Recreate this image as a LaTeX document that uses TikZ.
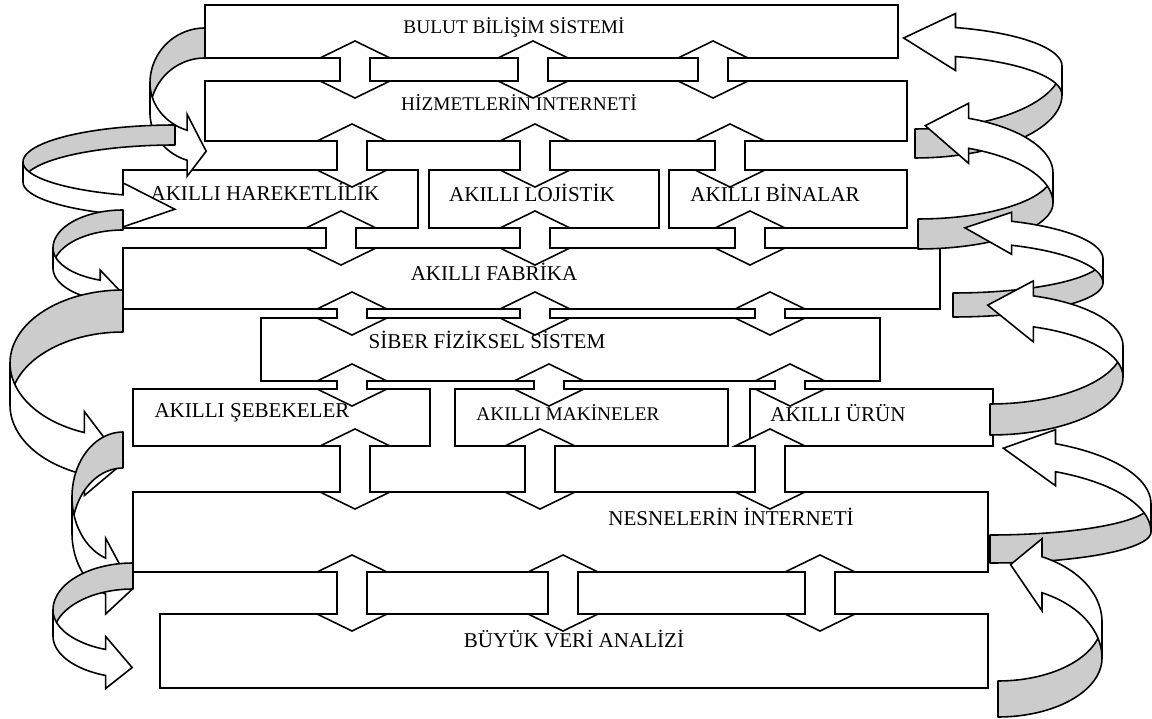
\documentclass[tikz,border=0pt]{standalone}
\usepackage{fontspec}
\setmainfont{Liberation Serif}
\usepackage{xcolor}
\definecolor{ribbongray}{RGB}{204,204,204}
\usetikzlibrary{fit,positioning}
\tikzset{
  layer/.style={draw, line width=0.9pt, inner sep=0pt, fill=white},
  lbl/.style={font=\fontsize{12}{14}\selectfont, inner sep=0pt},
  small/.style={font=\fontsize{11}{13}\selectfont},
  dblarrow/.style={draw, fill=white, line width=0.9pt, line join=miter},
  back/.style={draw, fill=ribbongray, line width=0.9pt, line join=round},
  front/.style={draw, fill=white, line width=0.9pt, line join=miter},
  % vertical two-headed arrow, #1 = length of the shaft
  pics/updown/.style={code={
    \draw[dblarrow] (0,-17) -- (35,0) -- (15,0) -- (15,#1) -- (35,#1) -- (0,#1+17)
      -- (-35,#1) -- (-15,#1) -- (-15,0) -- (-35,0) -- cycle;
  }},
  % 3D ribbon arrow: rx, ry back, ry front, thickness, head angle, barb, head length
  pics/twist/.style n args={7}{code={
    \pgfmathsetmacro\hx{#1*cos(#5)}
    \pgfmathsetmacro\hy{#3*sin(#5)}
    \pgfmathsetmacro\ang{atan2(-#3*cos(#5),#1*sin(#5))}
    \pgfmathsetmacro\tipx{\hx+#7*cos(\ang)}
    \pgfmathsetmacro\tipy{\hy+#4/2+#7*sin(\ang)}
    \filldraw[back] plot[domain=270:180,samples=30] ({#1*cos(\x)},{#2*sin(\x)})
      -- plot[domain=180:270,samples=30] ({#1*cos(\x)},{#2*sin(\x)+#4}) -- cycle;
    \filldraw[front] plot[domain=180:#5,samples=30] ({#1*cos(\x)},{#3*sin(\x)})
      -- (\hx,\hy-#6) -- (\tipx,\tipy) -- (\hx,\hy+#4+#6)
      -- plot[domain=#5:180,samples=30] ({#1*cos(\x)},{#3*sin(\x)+#4}) -- cycle;
  }},
}

\begin{document}
\begin{tikzpicture}[x=0.02cm, y=-0.02cm]
\useasboundingbox (0,0) rectangle (1152,719);
% Layers
\node[layer, fit={(205,5) (898,58)}] (bulut) {};
\node[layer, fit={(205,81) (907,141)}] (hizmet) {};
\node[layer, fit={(123,170) (418,228)}] (hareket) {};
\node[layer, fit={(429,170) (659,228)}] (lojistik) {};
\node[layer, fit={(669,170) (907,228)}] (binalar) {};
\node[layer, fit={(123,248) (940,309)}] (fabrika) {};
\node[layer, fit={(261,318) (880,381)}] (siber) {};
\node[layer, fit={(133,389) (430,446)}] (sebeke) {};
\node[layer, fit={(455,389) (728,446)}] (makine) {};
\node[layer, fit={(750,389) (993,446)}] (urun) {};
\node[layer, fit={(133,492) (988,572)}] (nesne) {};
\node[layer, fit={(160,614) (988,688)}] (veri) {};
% Layer texts
\node[lbl, small] (bulut-t) at (514,28) {BULUT BİLİŞİM SİSTEMİ};
\node[lbl, small] (hizmet-t) at (519,103) {HİZMETLERİN İNTERNETİ};
\node[lbl] (hareket-t) at (265,192) {AKILLI HAREKETLİLİK};
\node[lbl] (lojistik-t) at (532,193) {AKILLI LOJİSTİK};
\node[lbl] (binalar-t) at (775,193) {AKILLI BİNALAR};
\node[lbl] (fabrika-t) at (494,272) {AKILLI FABRİKA};
\node[lbl] (siber-t) at (487,340) {SİBER FİZİKSEL SİSTEM};
\node[lbl] (sebeke-t) at (252,413) {AKILLI ŞEBEKELER};
\node[lbl, small] (makine-t) at (568,413) {AKILLI MAKİNELER};
\node[lbl] (urun-t) at (838,413) {AKILLI ÜRÜN};
\node[lbl] (nesne-t) at (731,517) {NESNELERİN İNTERNETİ};
\node[lbl] (veri-t) at (574,639) {BÜYÜK VERİ ANALİZİ};
% Two-headed arrows between the layers
\foreach \top/\bot/\xs in {58/81/{355,533,713}, 141/170/{352,535,730},
    228/248/{341,535,750}, 309/318/{352,535,770}, 381/389/{352,549,790},
    446/492/{355,540,770}, 572/614/{352,563,820}}
  \foreach \xa in \xs {\pic at (\xa,\top) {updown={\bot-\top}};}
% Ribbon arrows, left side
\pic at (205,83) {twist={55}{55}{50}{30}{109}{16}{20}};
\pic at (175,162) {twist={152}{37}{35}{20}{110}{12}{52}};
\pic at (123,248) {twist={70}{38}{34}{20}{109}{10}{23}};
\pic at (123,363) {twist={113}{73}{74}{42}{110}{21}{40}};
\pic at (123,497) {twist={51}{65}{65}{36}{110}{20}{30}};
\pic at (133,610) {twist={80}{47}{42}{26}{110}{13}{27}};
% Ribbon arrows, right side
\pic[rotate=180] at (915,95) {twist={147}{63}{40}{29}{106}{14}{52}};
\pic[rotate=180] at (918,203) {twist={135}{46}{59}{30}{112}{15}{44}};
\pic[rotate=180] at (953,283) {twist={150}{34}{41}{24}{113}{9}{47}};
\pic[rotate=180] at (990,377) {twist={133}{58}{53}{31}{109}{15}{46}};
\pic[rotate=180] at (990,532) {twist={161}{31}{66}{28}{114}{14}{53}};
\pic[rotate=180] at (998,658) {twist={104}{59}{72}{36}{115}{18}{33}};
\end{tikzpicture}
\end{document}
